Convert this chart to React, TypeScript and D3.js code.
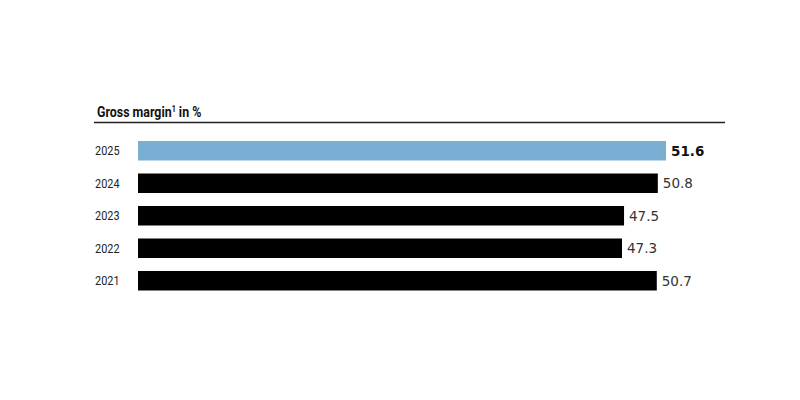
import * as d3 from 'd3';

const years = ['2025', '2024', '2023', '2022', '2021'];
const margins = [51.6, 50.8, 47.5, 47.3, 50.7];
const title = 'Gross margin';
const titleSup = '1';
const titleTail = ' in %';

const W = 800;
const H = 400;

export default function App() {
  // x: value -> pixel, y: year band
  const x = d3.scaleLinear().domain([0, 51.6]).range([138, 666]);
  const y = d3
    .scaleBand<string>()
    .domain(years)
    .range([134.5, 297])
    .paddingInner(0.4)
    .paddingOuter(0.2);

  // no condensed face installed, so Roboto gets squeezed horizontally
  const condensed = 'Roboto, "Liberation Sans", sans-serif';
  const valueFont = '"DejaVu Sans", Verdana, sans-serif';

  return (
    <svg
      width={W}
      height={H}
      style={{ position: 'absolute', left: 0, top: 0, background: '#fff' }}
    >
      {/* Title */}
      <text
        transform="translate(97,117) scale(0.8,1)"
        fontFamily={condensed}
        fontWeight="bold"
        fontSize={15.5}
        fill="#111"
      >
        {title}
        <tspan fontSize={9} dy={-5}>{titleSup}</tspan>
        <tspan dy={5}>{titleTail}</tspan>
      </text>
      <line x1={94} x2={725} y1={122.5} y2={122.5} stroke="#222" strokeWidth={1.5} />

      {years.map((yr, i) => {
        const v = margins[i];
        const top = y(yr) ?? 0;
        const bw = y.bandwidth();
        const highlight = i === 0;
        return (
          <g key={yr}>
            <text
              transform={`translate(119.5,${top + bw / 2}) scale(0.87,1)`}
              dy="0.36em"
              textAnchor="end"
              fontFamily={condensed}
              fontSize={12.5}
              fill="#222"
            >
              {yr}
            </text>
            <rect
              x={x(0)}
              y={top}
              width={x(v) - x(0)}
              height={bw}
              fill={highlight ? '#7aaed2' : '#000'}
            />
            <text
              x={x(v) + 5}
              y={top + bw / 2}
              dy="0.36em"
              fontFamily={valueFont}
              fontSize={13.5}
              fontWeight={highlight ? 'bold' : 'normal'}
              fill={highlight ? '#111' : '#333'}
            >
              {v.toFixed(1)}
            </text>
          </g>
        );
      })}
    </svg>
  );
}
